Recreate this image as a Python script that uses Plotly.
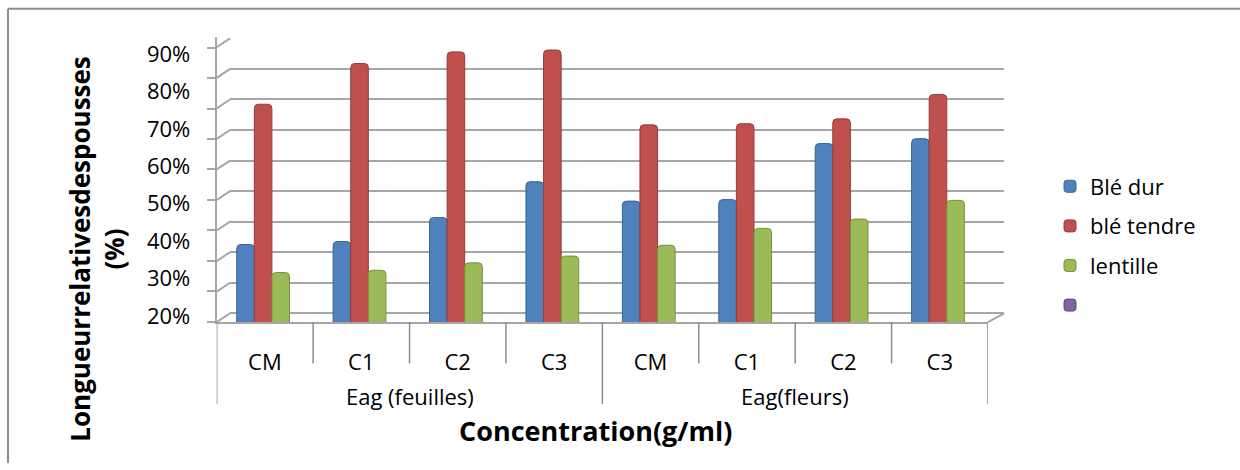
import plotly.graph_objects as go

# --- data -----------------------------------------------------------------
group_names = ["Eag (feuilles)", "Eag(fleurs)"]
groups = ["Eag (feuilles)"] * 4 + ["Eag(fleurs)"] * 4
concentrations = ["CM", "C1", "C2", "C3", "CM", "C1", "C2", "C3"]

ble_dur = [39.1, 39.9, 46.3, 55.9, 50.7, 51.1, 66.1, 67.4]
ble_tendre = [76.6, 87.5, 90.6, 91.1, 71.1, 71.4, 72.7, 79.2]
lentille = [31.6, 32.2, 34.2, 36.0, 38.9, 43.4, 45.9, 50.9]
serie_vide = [0, 0, 0, 0, 0, 0, 0, 0]

y_ticks = [20, 30, 40, 50, 60, 70, 80, 90]
y_ticktext = ["20%", "30%", "40%", "50%", "60%", "70%", "80%", "90%"]

series = [
    ("Blé dur", ble_dur, "#4F81BD", "#3A6497"),
    ("blé tendre", ble_tendre, "#C0504D", "#953B39"),
    ("lentille", lentille, "#9BBB59", "#76923C"),
    ("", serie_vide, "#8064A2", "#5F4B7A"),
]

# --- page geometry (pixels) ----------------------------------------------
W, H = 1240, 470
FONT = "Open Sans"
GRID = "#A6A6A6"


def fx(p):
    return p / W


def fy(p):
    return 1 - p / H


plot_top, plot_bottom = 38, 327
front_left, front_right = 216.7, 988
back_left, back_right = 230, 1004
y_domain = [fy(plot_bottom), fy(plot_top)]

fig = go.Figure()

for i, (name, vals, col, edge) in enumerate(series):
    fig.add_trace(go.Bar(
        x=[groups, concentrations],
        y=vals,
        name=name,
        legendgroup=f"g{i}",
        marker=dict(color=col, line=dict(color=edge, width=1), cornerradius=4),
        xaxis="x2",
        yaxis="y2",
    ))

# slanted joins between the front axis ticks and the back-wall grid
shapes = []
for v in range(0, 100, 10):
    shapes.append(dict(type="line", xref="paper", yref="y",
                       x0=fx(back_left), y0=v, x1=fx(front_left), y1=v - 2.9,
                       line=dict(color=GRID, width=2)))
# right edge of the floor
shapes.append(dict(type="line", xref="paper", yref="paper",
                   x0=fx(front_right), y0=fy(plot_bottom),
                   x1=fx(back_right), y1=fy(318),
                   line=dict(color=GRID, width=2)))
# category separators below the floor
for i in range(len(concentrations) + 1):
    end = 410 if i % 4 == 0 else 369
    shapes.append(dict(type="line", xref="x3", yref="paper",
                       x0=i - 0.5, x1=i - 0.5, y0=fy(plot_bottom), y1=fy(end),
                       line=dict(color="#8C8C8C", width=1.5)))
# chart area border
shapes.append(dict(type="line", xref="paper", yref="paper",
                   x0=fx(8), y0=fy(9), x1=1, y1=fy(9),
                   line=dict(color="#8C8C8C", width=2)))
shapes.append(dict(type="line", xref="paper", yref="paper",
                   x0=fx(8), y0=fy(9), x1=fx(8), y1=0,
                   line=dict(color="#8C8C8C", width=2)))

annotations = []
for gi, g in enumerate(group_names):
    idx = [k for k, gg in enumerate(groups) if gg == g]
    annotations.append(dict(text=g, xref="x3", yref="paper",
                            x=sum(idx) / len(idx), y=fy(402),
                            showarrow=False, xanchor="center", yanchor="middle",
                            font=dict(family=FONT, size=22, color="#000000")))
annotations.append(dict(text="Concentration(g/ml)", xref="paper", yref="paper",
                        x=fx(595), y=fy(437), showarrow=False,
                        xanchor="center", yanchor="middle",
                        font=dict(family=FONT, size=27, color="#000000",
                                  weight="bold")))
annotations.append(dict(text="Longueurrelativesdespousses<br>(%)",
                        xref="paper", yref="paper", x=fx(97.5), y=fy(253),
                        textangle=-90, showarrow=False,
                        xanchor="center", yanchor="middle",
                        font=dict(family=FONT, size=26, color="#000000",
                                  weight="bold")))

fig.update_layout(
    width=W, height=H, autosize=False,
    margin=dict(l=0, r=0, t=0, b=0),
    paper_bgcolor="white", plot_bgcolor="rgba(0,0,0,0)",
    font=dict(family=FONT, size=22, color="#000000"),
    barmode="group", bargap=0.27, bargroupgap=0,
    showlegend=True,
    legend=dict(x=fx(1050), y=fy(168), xanchor="left", yanchor="top",
                font=dict(family=FONT, size=22, color="#000000"),
                tracegroupgap=8, bgcolor="rgba(0,0,0,0)"),
    # back wall grid
    xaxis=dict(domain=[fx(back_left), fx(back_right)], anchor="y",
               range=[0, 1], showticklabels=False, showgrid=False,
               zeroline=False, ticks=""),
    yaxis=dict(domain=y_domain, anchor="x", range=[-2.9, 90.32],
               tick0=0, dtick=10, showgrid=True, gridcolor=GRID, gridwidth=2,
               zeroline=False, showticklabels=False, ticks=""),
    # bars and value labels
    xaxis2=dict(domain=[fx(223.7), fx(995)], anchor="y2", visible=False,
                type="multicategory"),
    yaxis2=dict(domain=y_domain, anchor="free", position=fx(front_left),
                range=[18.34, 94.47], tickmode="array", tickvals=y_ticks,
                ticktext=y_ticktext, ticks="outside", ticklen=22,
                tickcolor="rgba(0,0,0,0)", showgrid=False, zeroline=False,
                showline=False, tickfont=dict(family=FONT, size=22)),
    # front axes
    xaxis3=dict(domain=[fx(front_left), fx(front_right)], anchor="y3",
                range=[-0.5, 7.5], tickmode="array",
                tickvals=list(range(len(concentrations))),
                ticktext=concentrations, ticks="outside", ticklen=19,
                tickcolor="rgba(0,0,0,0)", showline=True, linecolor=GRID,
                linewidth=2, showgrid=False, zeroline=False,
                tickfont=dict(family=FONT, size=22)),
    yaxis3=dict(domain=y_domain, anchor="x3", range=[-0.1, 93.33],
                tick0=0, dtick=10, ticks="outside", ticklen=8, tickwidth=2,
                tickcolor=GRID, showticklabels=False, showline=True,
                linecolor=GRID, linewidth=2, showgrid=False, zeroline=False),
    shapes=shapes,
    annotations=annotations,
)

fig.write_html("out.html")
